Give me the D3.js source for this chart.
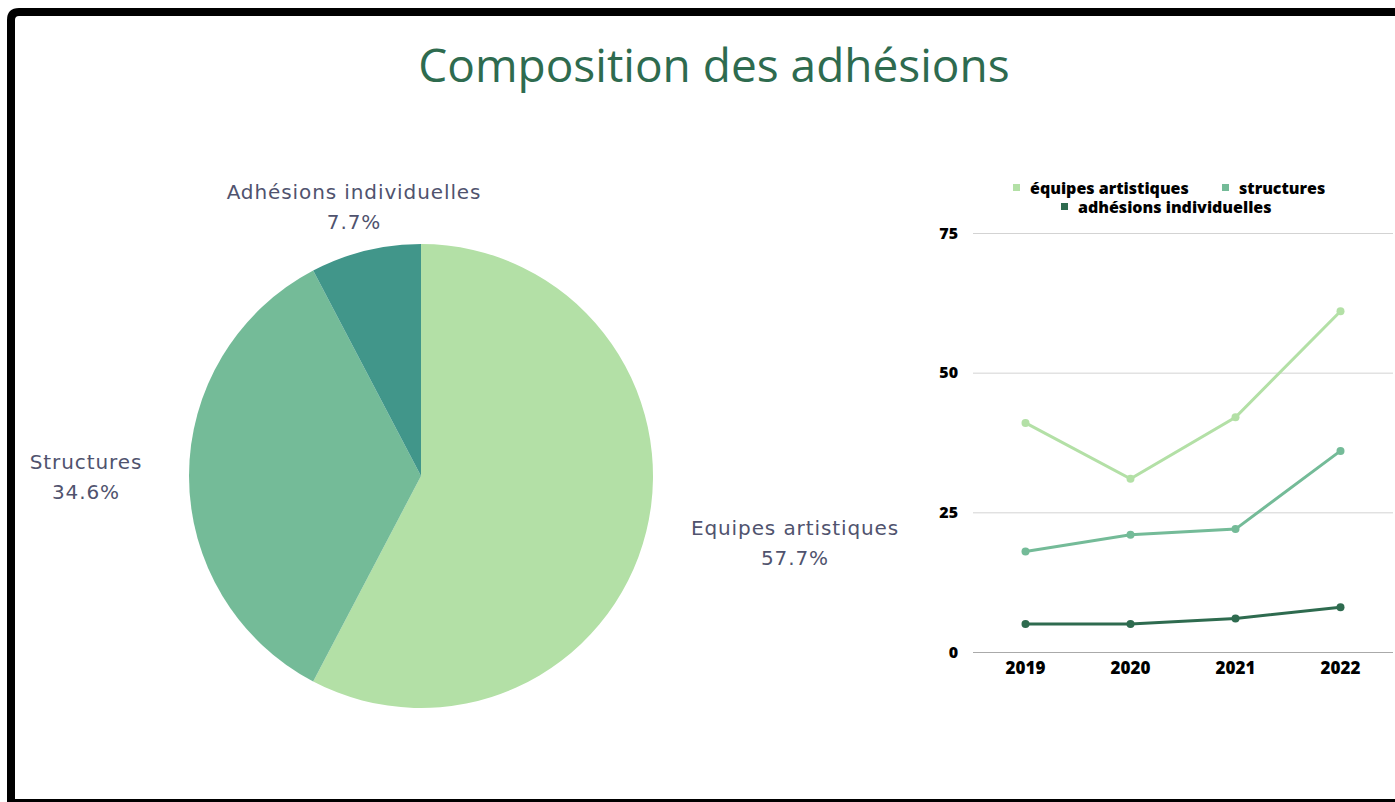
<!DOCTYPE html>
<html>
<head>
<meta charset="utf-8">
<script src="https://cdn.jsdelivr.net/npm/d3@7"></script>
<style>
  body { margin: 0; background: #fff; }
  svg { display: block; }
</style>
</head>
<body>
<svg width="1395" height="802"></svg>
<script>
// pie data
const pieLabels = ['Equipes artistiques', 'Structures', 'Adhésions individuelles'];
const pieValues = [15, 9, 2];
const pieColors = ['#b3e0a6', '#74bb98', '#41968a'];

// line data
const years = ['2019', '2020', '2021', '2022'];
const equipes = [41, 31, 42, 61];
const structures = [18, 21, 22, 36];
const individuelles = [5, 5, 6, 8];
const seriesNames = ['équipes artistiques', 'structures', 'adhésions individuelles'];
const seriesColors = ['#b3e0a6', '#74bb98', '#2e6b4f'];
const yTicks = [0, 25, 50, 75];

const svg = d3.select('svg');

// frame
svg.append('path')
  .attr('d', 'M11,802 L11,20 Q11,12 19,12 L1395,12')
  .attr('fill', 'none')
  .attr('stroke', '#000')
  .attr('stroke-width', 8);
svg.append('line')
  .attr('x1', 7).attr('x2', 1395)
  .attr('y1', 800.5).attr('y2', 800.5)
  .attr('stroke', '#000').attr('stroke-width', 3);

// title
svg.append('text')
  .attr('x', 714).attr('y', 82)
  .attr('text-anchor', 'middle')
  .attr('font-family', 'Open Sans')
  .attr('font-size', 46)
  .attr('fill', '#2e6b4f')
  .text('Composition des adhésions');

// ---- pie ----
const radius = 232;
const pieG = svg.append('g').attr('transform', 'translate(421, 476)');
const pie = d3.pie().sort(null).value(d => d.v);
const arcs = pie(pieValues.map((v, i) => ({ v, label: pieLabels[i], color: pieColors[i] })));
const arc = d3.arc().innerRadius(0).outerRadius(radius);

pieG.selectAll('path')
  .data(arcs)
  .join('path')
  .attr('d', arc)
  .attr('fill', d => d.data.color);

const total = d3.sum(pieValues);
const labelPos = [[374, 59], [-335, -7], [-67, -277]];
pieG.selectAll('g.lbl')
  .data(arcs)
  .join('g')
  .attr('class', 'lbl')
  .attr('transform', (d, i) => `translate(${labelPos[i][0]}, ${labelPos[i][1]})`)
  .each(function(d) {
    const t = d3.select(this).append('text')
      .attr('text-anchor', 'middle')
      .attr('font-family', 'DejaVu Sans')
      .attr('font-size', 20)
      .attr('letter-spacing', 0.9)
      .attr('fill', '#50536e');
    t.append('tspan').attr('x', 0).attr('dy', 0).text(d.data.label);
    t.append('tspan').attr('x', 0).attr('dy', 30)
      .text((d.data.v / total * 100).toFixed(1) + '%');
  });

// ---- line chart ----
const x = d3.scaleBand().domain(years).range([973, 1393]);
const y = d3.scaleLinear().domain([0, 75]).range([652, 233]);

const grid = svg.append('g');
grid.selectAll('line')
  .data(yTicks)
  .join('line')
  .attr('x1', 973).attr('x2', 1393)
  .attr('y1', d => y(d) + 0.5).attr('y2', d => y(d) + 0.5)
  .attr('stroke', d => d === 0 ? '#aaa' : '#d3d3d3')
  .attr('stroke-width', 1);

const yAxis = svg.append('g')
  .attr('transform', 'translate(958, 0)')
  .call(d3.axisLeft(y).tickValues(yTicks).tickSize(0).tickPadding(0));
yAxis.select('.domain').remove();
yAxis.selectAll('text')
  .attr('font-family', 'Open Sans')
  .attr('font-weight', 800)
  .attr('font-size', 16)
  .attr('fill', '#000');

const xAxis = svg.append('g')
  .attr('transform', 'translate(0, 652)')
  .call(d3.axisBottom(x).tickSize(0).tickPadding(10));
xAxis.select('.domain').remove();
xAxis.selectAll('text')
  .attr('font-family', 'Open Sans')
  .attr('font-weight', 800)
  .attr('font-size', 17)
  .attr('fill', '#000');

const seriesData = [equipes, structures, individuelles];
const line = d3.line()
  .x((d, i) => x(years[i]) + x.bandwidth() / 2)
  .y(d => y(d));

seriesData.forEach((vals, s) => {
  svg.append('path')
    .attr('d', line(vals))
    .attr('fill', 'none')
    .attr('stroke', seriesColors[s])
    .attr('stroke-width', 3);
  svg.append('g').selectAll('circle')
    .data(vals)
    .join('circle')
    .attr('cx', (d, i) => x(years[i]) + x.bandwidth() / 2)
    .attr('cy', d => y(d))
    .attr('r', 4)
    .attr('fill', seriesColors[s]);
});

// legend
const legendItems = [
  { name: seriesNames[0], color: seriesColors[0], x: 1013, y: 194 },
  { name: seriesNames[1], color: seriesColors[1], x: 1222, y: 194 },
  { name: seriesNames[2], color: seriesColors[2], x: 1061, y: 213 }
];
const legend = svg.append('g').selectAll('g')
  .data(legendItems)
  .join('g')
  .attr('transform', d => `translate(${d.x}, ${d.y})`);
legend.append('rect')
  .attr('x', 0).attr('y', -10)
  .attr('width', 7).attr('height', 7)
  .attr('fill', d => d.color);
legend.append('text')
  .attr('x', 17).attr('y', 0)
  .attr('font-family', 'Open Sans')
  .attr('font-weight', 800)
  .attr('font-size', 16)
  .attr('fill', '#000')
  .text(d => d.name);
</script>
</body>
</html>
